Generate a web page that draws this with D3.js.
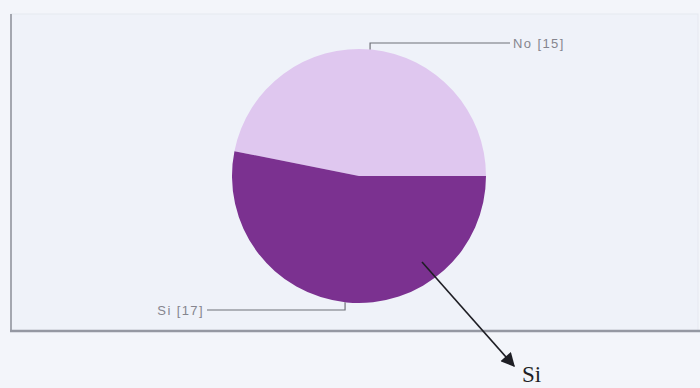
<!DOCTYPE html>
<html><head><meta charset="utf-8">
<script src="https://cdn.jsdelivr.net/npm/d3@7"></script>
<style>html,body{margin:0;padding:0;background:#f3f5fa;}svg{display:block;}</style>
</head><body>
<svg id="c" width="700" height="388"></svg>
<script>
const categories = ["No", "Si"];
const values = [15, 17];
const colors = ["#dfc7ef", "#7b3190"];
const labelTexts = ["No [15]", "Si [17]"];
const annotationText = "Si";

const svg = d3.select("#c");
// frame
svg.append("rect").attr("x", 11).attr("y", 14).attr("width", 687).attr("height", 317)
  .attr("fill", "#eff2f9").attr("stroke", "#e6e9f0").attr("stroke-width", 1);
svg.append("line").attr("x1", 11).attr("x2", 11).attr("y1", 14).attr("y2", 331)
  .attr("stroke", "#a4a7b0").attr("stroke-width", 2);
svg.append("line").attr("x1", 10).attr("x2", 700).attr("y1", 331).attr("y2", 331)
  .attr("stroke", "#9598a2").attr("stroke-width", 2.5);

const cx = 359, cy = 176, r = 127;
const total = d3.sum(values);
const start = Math.PI / 2 - 2 * Math.PI * values[0] / total;
const pie = d3.pie().sort(null).startAngle(start).endAngle(start + 2 * Math.PI);
const arcs = pie(values);
const arc = d3.arc().innerRadius(0).outerRadius(r);
const g = svg.append("g").attr("transform", `translate(${cx},${cy})`);
g.selectAll("path").data(arcs).join("path")
  .attr("d", arc).attr("fill", (d, i) => colors[i]);

// leader lines
const anchorAngles = [5 * Math.PI / 180, 186.3 * Math.PI / 180];
const elbowY = [43, 310];
const lineEndX = [510, 207];
categories.forEach((c, i) => {
  const a = anchorAngles[i];
  const px = cx + r * Math.sin(a), py = cy - r * Math.cos(a);
  svg.append("polyline")
    .attr("points", `${px},${py} ${px},${elbowY[i]} ${lineEndX[i]},${elbowY[i]}`)
    .attr("fill", "none").attr("stroke", "#6f7078").attr("stroke-width", 1.2);
  svg.append("text")
    .attr("x", i === 0 ? lineEndX[i] + 3 : lineEndX[i] - 3)
    .attr("y", elbowY[i] + 5)
    .attr("text-anchor", i === 0 ? "start" : "end")
    .attr("font-family", "Liberation Sans, Arial, sans-serif")
    .attr("font-size", 13).attr("letter-spacing", 1.4).attr("fill", "#85858e")
    .text(labelTexts[i]);
});

// annotation arrow
svg.append("defs").append("marker").attr("id", "ah")
  .attr("viewBox", "0 0 10 10").attr("refX", 9).attr("refY", 5)
  .attr("markerWidth", 16).attr("markerHeight", 14).attr("orient", "auto")
  .attr("markerUnits", "userSpaceOnUse")
  .append("path").attr("d", "M0,0 L10,5 L0,10 Z").attr("fill", "#1e1e24");
svg.append("line").attr("x1", 422).attr("y1", 262).attr("x2", 514).attr("y2", 366)
  .attr("stroke", "#1e1e24").attr("stroke-width", 1.6)
  .attr("marker-end", "url(#ah)");
svg.append("text").attr("x", 522).attr("y", 382)
  .attr("font-family", "Liberation Serif, Times New Roman, serif")
  .attr("font-size", 23).attr("fill", "#1e1e24").text(annotationText);
</script>
</body></html>
